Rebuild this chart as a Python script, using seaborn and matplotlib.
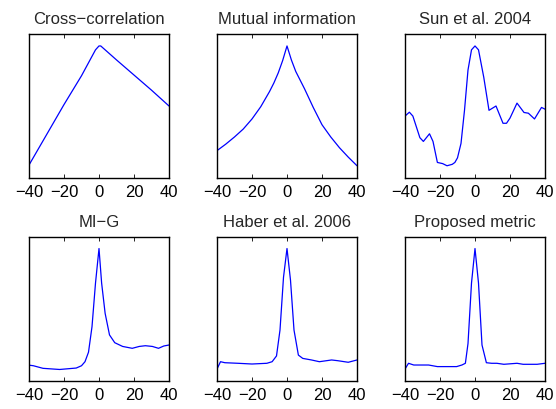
import numpy as np
import pandas as pd
import matplotlib
matplotlib.use('Agg')
import matplotlib.pyplot as plt
import seaborn as sns

# values, normalised to the height of each panel (0 = bottom, 1 = top)
titles = ['Cross\u2212correlation', 'Mutual information', 'Sun et al. 2004',
          'MI\u2212G', 'Haber et al. 2006', 'Proposed metric']

xcorr_lag = [-40, -30, -20, -10, -2, 0, 1, 10, 20, 30, 40]
xcorr_val = [0.09, 0.30, 0.51, 0.71, 0.89, 0.917, 0.917, 0.82, 0.715, 0.61, 0.50]

mi_lag = [-40, -35, -30, -25, -20, -15, -10, -7.5, -5, -2.5, 0,
          2.5, 5, 7.5, 10, 15, 20, 25, 30, 35, 40]
mi_val = [0.19, 0.235, 0.285, 0.34, 0.41, 0.495, 0.60, 0.66, 0.73, 0.815, 0.917,
          0.82, 0.74, 0.68, 0.62, 0.49, 0.37, 0.285, 0.21, 0.145, 0.085]

sun_lag = [-40, -37.5, -35.5, -31.5, -29.5, -26, -24, -21.5, -18.5, -16, -13, -11.5, -10,
           -8, -6, -4, -2, 0, 2, 5, 8, 12, 16, 18, 20, 24, 28, 30.5, 34, 38, 40]
sun_val = [0.43, 0.457, 0.43, 0.28, 0.254, 0.307, 0.254, 0.108, 0.10, 0.085, 0.095, 0.108, 0.14,
           0.24, 0.47, 0.75, 0.89, 0.917, 0.89, 0.70, 0.47, 0.50, 0.38, 0.38, 0.416, 0.52, 0.455,
           0.45, 0.41, 0.49, 0.478]

mig_lag = [-40, -37.5, -32, -22.5, -13, -10, -8, -6, -4, -2, 0, 1.5, 3.5, 6, 9, 13.5, 19,
           23, 26.5, 30.5, 34, 37, 40]
mig_val = [0.11, 0.106, 0.088, 0.08, 0.09, 0.106, 0.134, 0.20, 0.377, 0.68, 0.92, 0.68, 0.47,
           0.32, 0.266, 0.24, 0.227, 0.24, 0.245, 0.24, 0.227, 0.243, 0.25]

haber_lag = [-40, -38, -35.5, -28, -20, -11.5, -8.5, -6, -4, -2, 0, 2, 4, 6.5, 9, 14, 18.5,
             25.5, 29, 35, 40]
haber_val = [0.083, 0.134, 0.127, 0.123, 0.118, 0.123, 0.134, 0.174, 0.354, 0.72, 0.92, 0.70,
             0.354, 0.18, 0.157, 0.146, 0.134, 0.146, 0.141, 0.13, 0.146]

prop_lag = [-40, -38, -35, -26.5, -21.5, -10.5, -7.5, -5.5, -4, -2, 0, 2, 4, 6.5, 9.5, 12.5,
            16.5, 24, 27.5, 35.5, 40]
prop_val = [0.083, 0.123, 0.111, 0.111, 0.10, 0.10, 0.111, 0.123, 0.26, 0.68, 0.92, 0.68, 0.25,
            0.127, 0.123, 0.123, 0.116, 0.123, 0.116, 0.116, 0.123]

series = [(xcorr_lag, xcorr_val), (mi_lag, mi_val), (sun_lag, sun_val),
          (mig_lag, mig_val), (haber_lag, haber_val), (prop_lag, prop_val)]

sns.set_style('white')
plt.rcParams['font.family'] = ['Liberation Sans', 'DejaVu Sans']

fig = plt.figure(figsize=(5.56, 4.09), dpi=100)
W, H = 556, 409
lefts = [29, 217, 405]
tops = [34, 237]
w, h = 140, 144

for i, (t, (lag, val)) in enumerate(zip(titles, series)):
    r, c = divmod(i, 3)
    ax = fig.add_axes([lefts[c] / W, 1 - (tops[r] + h) / H, w / W, h / H])
    df = pd.DataFrame({'lag': lag, 'value': val})
    sns.lineplot(data=df, x='lag', y='value', ax=ax, color='#0000ff', linewidth=0.9,
                 estimator=None, sort=False)
    ax.set_xlim(-40, 40)
    ax.set_ylim(0, 1)
    ax.set_xticks([-40, -20, 0, 20, 40])
    ax.set_yticks([])
    ax.set_xlabel('')
    ax.set_ylabel('')
    ax.tick_params(axis='x', direction='in', top=True, bottom=True, length=3,
                   width=0.6, labelsize=12, pad=5, colors='black')
    for s in ax.spines.values():
        s.set_color('black')
        s.set_linewidth(1.0)
    ax.set_title(t, fontsize=12, pad=7)

fig.savefig('out.png', dpi=100)
